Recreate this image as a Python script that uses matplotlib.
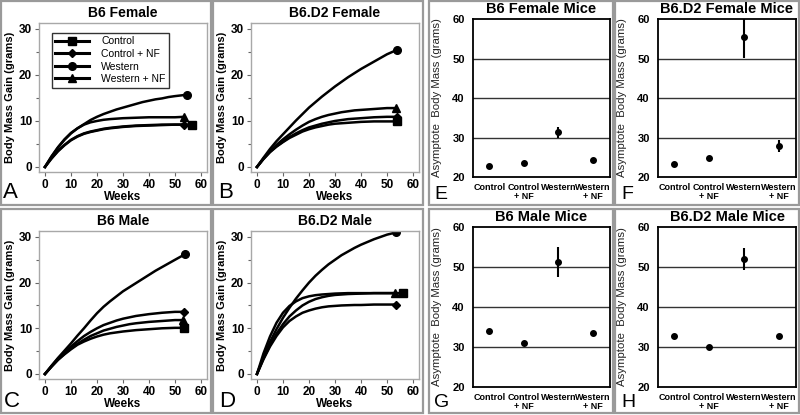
import numpy as np
import matplotlib
matplotlib.use('Agg')
import matplotlib.pyplot as plt
from matplotlib.patches import Rectangle
from matplotlib.legend_handler import HandlerLine2D

plt.rcParams['font.family'] = ['Liberation Sans', 'DejaVu Sans']

W, H = 800, 415

series = ['Control', 'Control + NF', 'Western', 'Western + NF']
markers = ['s', 'D', 'o', '^']

# growth curves (grams gained vs weeks)
weeks = [0, 2.5, 5, 7.5, 10, 12.5, 15, 17.5, 20, 22.5, 25, 27.5, 30, 32.5,
         35, 37.5, 40, 42.5, 45, 47.5, 50]

# A: B6 female
a_ctrl = [0, 1.8, 3.4, 4.7, 5.8, 6.6, 7.2, 7.6, 7.9, 8.2, 8.4, 8.55, 8.7, 8.8, 8.9, 8.95, 9.0, 9.05, 9.1, 9.15, 9.2, 9.2]
a_ctrl_nf = [0, 1.9, 3.5, 4.8, 5.9, 6.7, 7.3, 7.7, 8.0, 8.3, 8.5, 8.65, 8.8, 8.9, 9.0, 9.05, 9.1, 9.15, 9.2, 9.2, 9.2, 9.2]
a_west = [0, 2.2, 4.2, 5.9, 7.3, 8.4, 9.3, 10.2, 10.9, 11.5, 12.0, 12.5, 12.9, 13.3, 13.7, 14.1, 14.4, 14.7, 14.9, 15.2, 15.4, 15.7]
a_west_nf = [0, 2.3, 4.3, 6.0, 7.4, 8.4, 9.2, 9.7, 10.0, 10.25, 10.4, 10.5, 10.6, 10.65, 10.7, 10.75, 10.8, 10.8, 10.8, 10.8, 10.8, 10.9]
a_end = [56.5, 53.5, 54.5, 53.5]

# B: B6.D2 female
b_ctrl = [0, 1.7, 3.2, 4.4, 5.4, 6.3, 7.0, 7.7, 8.2, 8.6, 8.9, 9.2, 9.4, 9.5, 9.6, 9.7, 9.8, 9.85, 9.9, 9.9, 9.9, 9.9]
b_ctrl_nf = [0, 1.8, 3.3, 4.5, 5.5, 6.5, 7.3, 8.0, 8.6, 9.0, 9.4, 9.7, 10.0, 10.2, 10.4, 10.5, 10.6, 10.7, 10.8, 10.85, 10.9, 10.9]
b_west = [0, 2.0, 3.9, 5.6, 7.1, 8.6, 10.1, 11.5, 12.9, 14.1, 15.3, 16.4, 17.5, 18.5, 19.5, 20.4, 21.3, 22.1, 22.9, 23.7, 24.5, 25.5]
b_west_nf = [0, 1.8, 3.4, 4.8, 6.0, 7.1, 8.1, 9.0, 9.8, 10.4, 10.9, 11.3, 11.6, 11.9, 12.1, 12.3, 12.4, 12.5, 12.6, 12.7, 12.8, 12.8]
b_end = [54, 54, 54, 53.5]

# C: B6 male
c_ctrl = [0, 1.6, 3.1, 4.3, 5.4, 6.4, 7.1, 7.7, 8.2, 8.6, 8.9, 9.1, 9.3, 9.45, 9.6, 9.7, 9.8, 9.9, 10.0, 10.05, 10.1, 10.1]
c_ctrl_nf = [0, 1.7, 3.4, 4.8, 6.0, 7.2, 8.3, 9.2, 10.0, 10.7, 11.2, 11.7, 12.1, 12.4, 12.7, 12.9, 13.1, 13.25, 13.4, 13.5, 13.6, 13.6]
c_west = [0, 1.8, 3.5, 5.1, 6.7, 8.4, 10.0, 11.7, 13.3, 14.7, 15.9, 17.0, 18.1, 19.0, 19.9, 20.8, 21.7, 22.6, 23.4, 24.2, 25.0, 26.2]
c_west_nf = [0, 1.6, 3.1, 4.4, 5.6, 6.6, 7.5, 8.3, 8.9, 9.5, 9.9, 10.3, 10.6, 10.9, 11.1, 11.25, 11.4, 11.5, 11.6, 11.7, 11.8, 11.8]
c_end = [53.5, 53.5, 53.8, 53.2]

# D: B6.D2 male
d_ctrl = [0, 3.4, 6.3, 8.8, 10.9, 12.6, 13.9, 15.0, 15.8, 16.4, 16.8, 17.1, 17.3, 17.4, 17.5, 17.55, 17.6, 17.65, 17.7, 17.7, 17.7, 17.7]
d_ctrl_nf = [0, 3.2, 6.0, 8.3, 10.2, 11.6, 12.6, 13.4, 13.9, 14.3, 14.6, 14.8, 14.9, 15.0, 15.05, 15.1, 15.1, 15.15, 15.2, 15.2, 15.2, 15.2]
d_west = [0, 3.7, 7.0, 9.8, 12.3, 14.5, 16.5, 18.3, 20.0, 21.5, 22.8, 24.0, 25.0, 26.0, 26.8, 27.6, 28.3, 28.9, 29.5, 30.0, 30.5, 31.0]
d_west_nf = [0, 4.5, 8.2, 11.2, 13.4, 14.9, 15.9, 16.6, 17.0, 17.25, 17.4, 17.5, 17.6, 17.65, 17.7, 17.7, 17.7, 17.7, 17.7, 17.7, 17.7, 17.7]
d_end = [56, 53.5, 53.5, 53]

# asymptote body mass (grams), mean and error
groups = ['Control', 'Control\n+ NF', 'Western', 'Western\n+ NF']
e_mean = [22.9, 23.5, 31.3, 24.4]
e_err = [0.2, 0.3, 1.3, 0.5]
f_mean = [23.4, 24.7, 55.5, 27.8]
f_err = [0.3, 0.5, 5.3, 1.5]
g_mean = [34.0, 31.1, 51.3, 33.6]
g_err = [0.3, 0.4, 3.7, 0.4]
h_mean = [32.7, 30.0, 52.0, 32.7]
h_err = [0.3, 0.4, 2.8, 0.3]


class EndMarker(HandlerLine2D):
    # legend handle with the marker at the right end of the line
    def get_xdata(self, legend, xdescent, ydescent, width, height, fontsize):
        x0 = -xdescent
        return np.array([x0, x0 + width]), np.array([x0 + width])


fig = plt.figure(figsize=(W / 100, H / 100), dpi=100)


def px_axes(l, t, r, b):
    return fig.add_axes([l / W, 1 - b / H, (r - l) / W, (b - t) / H])


def frame(l, t, r, b):
    fig.add_artist(Rectangle((l / W, 1 - b / H), (r - l) / W, (b - t) / H,
                             transform=fig.transFigure, fill=False,
                             ec='#9a9a9a', lw=1.6))


def letter(x, y, s, size=16):
    fig.text(x / W, 1 - y / H, s, fontsize=size, va='bottom', ha='left')


def growth(box, title, curves, ends, legend=False):
    l, t, r, b = box
    ax = px_axes(l, t, r, b)
    handles = []
    for vals, end, m, name in zip(curves, ends, markers, series):
        x = weeks + [end]
        ax.plot(x, vals, color='black', lw=1.8, solid_joinstyle='round')
        ms = 5.5 if m != 'D' else 4.5
        ax.plot([end], [vals[-1]], marker=m, color='black', ms=ms, ls='none')
        h, = ax.plot([], [], color='black', lw=2.2, marker=m, ms=ms, label=name)
        handles.append(h)
    ax.set_xlim(-2.3, 62.3)
    ax.set_ylim(-1.1, 31.3)
    ax.set_xticks(range(0, 61, 10))
    ax.set_yticks([0, 10, 20, 30])
    ax.set_yticks([5, 15, 25], minor=True)
    ax.tick_params(labelsize=8.5, length=3, width=0.8, color='#666', pad=2)
    ax.tick_params(which='minor', length=2, width=0.8, color='#666')
    for lab in ax.get_xticklabels() + ax.get_yticklabels():
        lab.set_fontweight('bold')
    for sp in ax.spines.values():
        sp.set_color('#a8a8a8')
        sp.set_linewidth(1)
    ax.set_xlabel('Weeks', fontsize=8.5, fontweight='bold', labelpad=0)
    ax.set_ylabel('Body Mass Gain (grams)', fontsize=8, fontweight='bold', labelpad=3)
    fig.text((l + r) / 2 / W, 1 - (t - 10) / H, title, fontsize=10, fontweight='bold',
             ha='center', va='center')
    if legend:
        leg = ax.legend(handles=handles, loc='upper left', bbox_to_anchor=(0.045, 0.97),
                        fontsize=7.5, frameon=True, fancybox=False, handlelength=3.2,
                        handletextpad=1.2, borderpad=0.35, labelspacing=0.25,
                        handler_map={h: EndMarker() for h in handles})
        leg.get_frame().set_edgecolor('black')
        leg.get_frame().set_linewidth(1)
    return ax


def asymptote(box, title, mean, err, title_y):
    l, t, r, b = box
    ax = px_axes(l, t, r, b)
    x = np.arange(len(groups))
    ax.errorbar(x, mean, yerr=err, fmt='o', color='black', ms=4, elinewidth=1.5,
                capsize=0, zorder=3)
    ax.set_xlim(-0.47, 3.5)
    ax.set_ylim(20, 60)
    ax.set_yticks([20, 30, 40, 50, 60])
    for yv in [30, 40, 50]:
        ax.axhline(yv, color='#333', lw=1, zorder=1)
    ax.set_xticks(x)
    ax.set_xticklabels(groups, fontsize=6.5, fontweight='bold', linespacing=1.1)
    ax.tick_params(axis='x', length=0, pad=4)
    ax.tick_params(axis='y', length=0, labelsize=8, pad=6)
    for lab in ax.get_yticklabels():
        lab.set_fontweight('bold')
    for sp in ax.spines.values():
        sp.set_color('black')
        sp.set_linewidth(1.3)
    ax.set_ylabel('Asymptote  Body Mass (grams)', fontsize=8.2, color='#222', labelpad=7)
    fig.text((l + r) / 2 / W, 1 - title_y / H, title, fontsize=10.5, fontweight='bold',
             ha='center', va='center')
    return ax


# panel frames
for l, r in [(1, 211), (213, 423), (429, 613), (615, 799)]:
    frame(l, 1, r, 205)
    frame(l, 209, r, 413)

growth((39, 23, 207, 172), 'B6 Female', [a_ctrl, a_ctrl_nf, a_west, a_west_nf], a_end, legend=True)
growth((251, 23, 419, 172), 'B6.D2 Female', [b_ctrl, b_ctrl_nf, b_west, b_west_nf], b_end)
growth((39, 231, 207, 379), 'B6 Male', [c_ctrl, c_ctrl_nf, c_west, c_west_nf], c_end)
growth((251, 231, 419, 379), 'B6.D2 Male', [d_ctrl, d_ctrl_nf, d_west, d_west_nf], d_end)

asymptote((473, 19, 610, 177), 'B6 Female Mice', e_mean, e_err, 9)
asymptote((658, 19, 796, 177), 'B6.D2 Female Mice', f_mean, f_err, 9)
asymptote((473, 227, 610, 387), 'B6 Male Mice', g_mean, g_err, 217)
asymptote((658, 227, 796, 387), 'B6.D2 Male Mice', h_mean, h_err, 217)

letter(3, 203, 'A')
letter(218, 203, 'B')
letter(4, 412, 'C')
letter(219, 412, 'D')
letter(434, 203, 'E', 14)
letter(621, 203, 'F', 14)
letter(434, 411, 'G', 14)
letter(621, 411, 'H', 14)

fig.savefig('out.png', dpi=100)
